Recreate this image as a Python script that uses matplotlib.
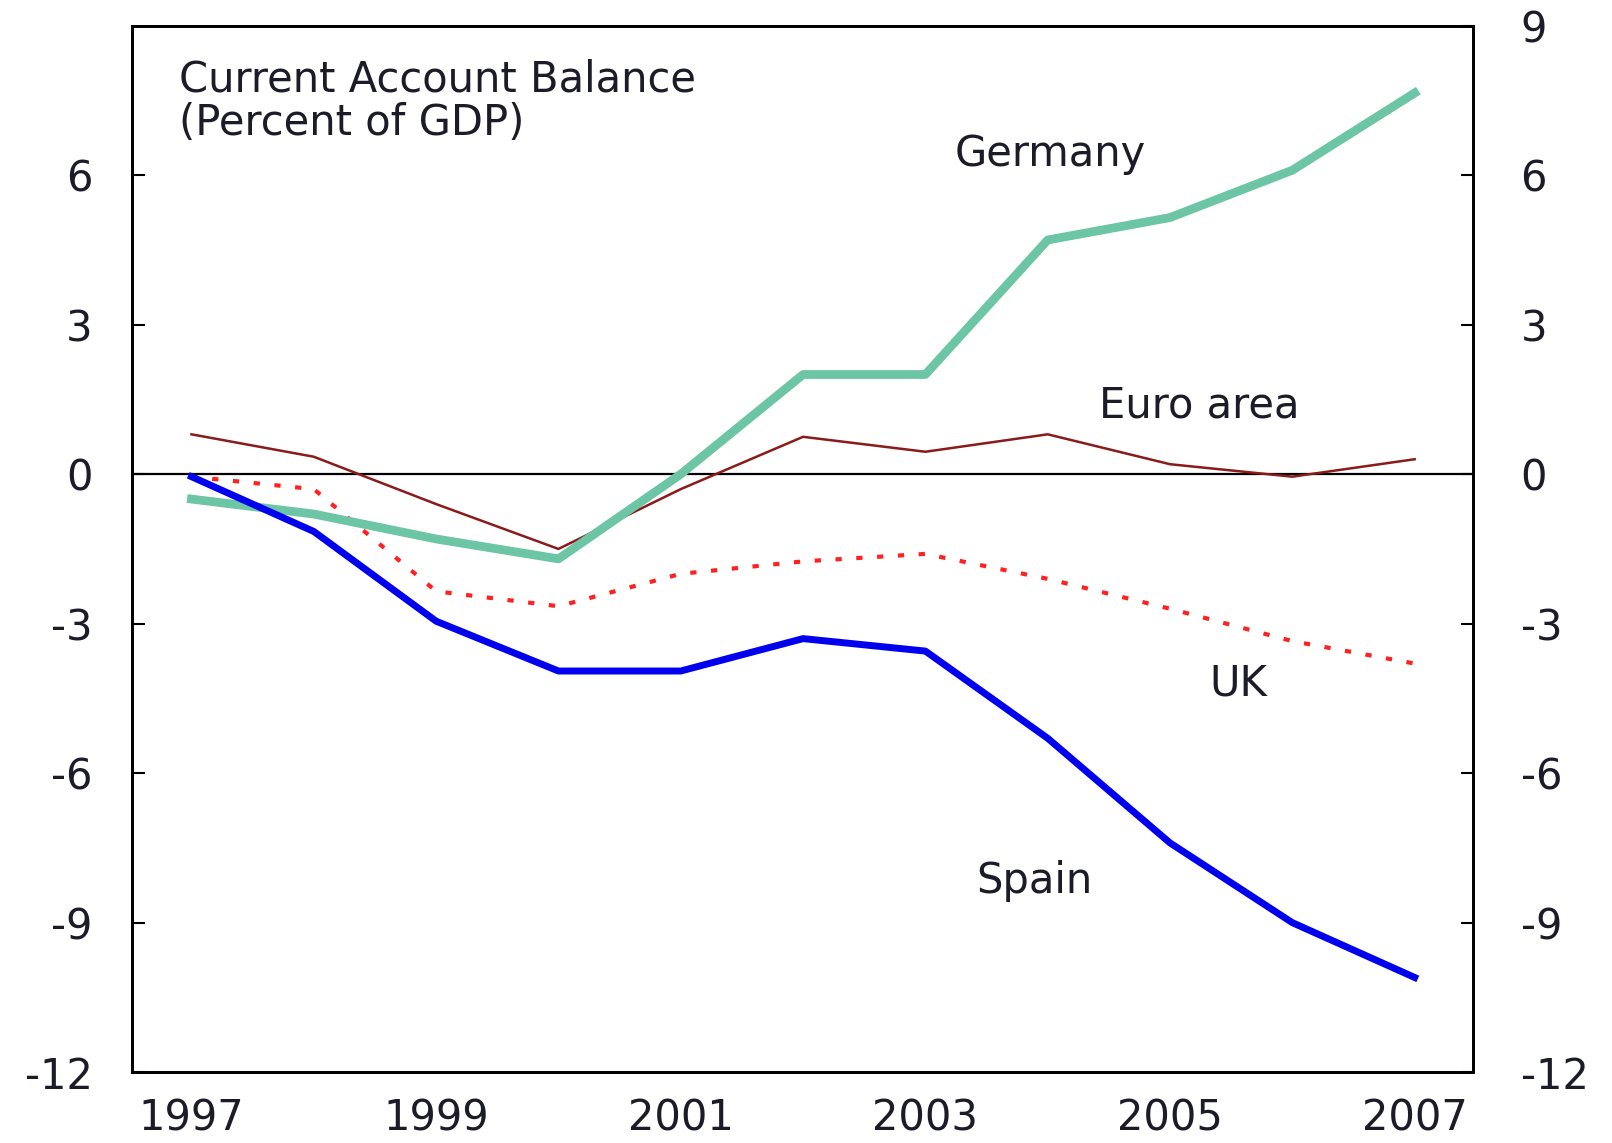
import numpy as np
import matplotlib
matplotlib.use("Agg")
import matplotlib.pyplot as plt

years = [1997, 1998, 1999, 2000, 2001, 2002, 2003, 2004, 2005, 2006, 2007]
germany = [-0.5, -0.8, -1.3, -1.7, 0.0, 2.0, 2.0, 4.7, 5.15, 6.1, 7.65]
euro_area = [0.8, 0.35, -0.6, -1.5, -0.3, 0.75, 0.45, 0.8, 0.2, -0.05, 0.3]
uk = [-0.05, -0.3, -2.35, -2.65, -2.0, -1.75, -1.6, -2.1, -2.7, -3.35, -3.8]
spain = [-0.05, -1.15, -2.95, -3.95, -3.95, -3.3, -3.55, -5.3, -7.4, -9.0, -10.1]

xtick_years = [1997, 1999, 2001, 2003, 2005, 2007]
left_ticks = [6, 3, 0, -3, -6, -9, -12]
right_ticks = [9, 6, 3, 0, -3, -6, -9, -12]

plt.rcParams["font.family"] = ["DejaVu Sans"]
FS = 30
TXT = "#1c1c28"

fig = plt.figure(figsize=(16.12, 11.43), dpi=100)
ax = fig.add_axes([0.0816, 0.062, 0.8324, 0.9155])

ax.axhline(0, color="black", linewidth=1.6, zorder=1)
ax.plot(years, euro_area, color="#8b1a1a", linewidth=1.8, zorder=2)
ax.plot(years, uk, color="#ff2020", linewidth=3, linestyle=(0, (1.5, 3.5)), zorder=3)
ax.plot(years, germany, color="#6cc5a4", linewidth=6.3, zorder=4)
ax.plot(years, spain, color="#0000ee", linewidth=5, zorder=5)

ax.set_xlim(1996.51, 2007.48)
ax.set_ylim(-12, 9)
ax.set_xticks(xtick_years)
ax.set_xticklabels([str(y) for y in xtick_years])
ax.set_yticks(left_ticks)
ax.set_yticklabels([str(v) for v in left_ticks])
ax.tick_params(axis="x", length=0, labelsize=FS, labelcolor=TXT, pad=18)
ax.tick_params(axis="y", direction="in", length=9, width=1.5, labelsize=FS,
               labelcolor=TXT, pad=28)

ax2 = ax.twinx()
ax2.set_ylim(-12, 9)
ax2.set_yticks(right_ticks)
ax2.set_yticklabels([str(v) for v in right_ticks])
ax2.tick_params(axis="y", direction="in", length=9, width=1.5, labelsize=FS,
                labelcolor=TXT, pad=34)

for a in (ax, ax2):
    for s in a.spines.values():
        s.set_linewidth(2)
        s.set_color("black")

ax.text(1996.9, 7.48, "Current Account Balance\n(Percent of GDP)", fontsize=FS,
        color=TXT, va="center", ha="left", linespacing=1.05)
ax.text(2004.02, 6.43, "Germany", fontsize=FS, color=TXT, va="center", ha="center")
ax.text(2005.24, 1.38, "Euro area", fontsize=FS, color=TXT, va="center", ha="center")
ax.text(2005.56, -4.2, "UK", fontsize=FS, color=TXT, va="center", ha="center")
ax.text(2003.89, -8.16, "Spain", fontsize=FS, color=TXT, va="center", ha="center")

fig.savefig("out.png", dpi=100)
